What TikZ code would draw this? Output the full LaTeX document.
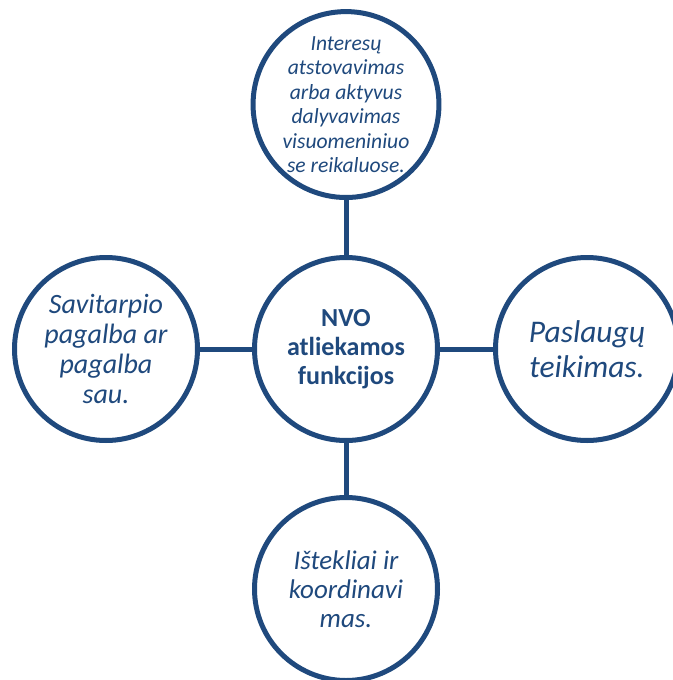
\documentclass[tikz,border=0pt]{standalone}
\usepackage{fontspec}
\setmainfont{Carlito}
\usepackage{tikz}
\usetikzlibrary{shapes,positioning}
\definecolor{navy}{RGB}{31, 73, 125}
\tikzstyle{hub} = [circle, draw=navy, line width=5pt, fill=white, text=navy, align=center, font=\bfseries\fontsize{26}{29}\selectfont, minimum size=183pt, inner sep=0pt]
\tikzstyle{func} = [circle, draw=navy, line width=5pt, fill=white, text=navy, align=center, font=\itshape, minimum size=183pt, inner sep=0pt]
\tikzstyle{tedge} = [draw=navy, line width=5pt]

\begin{document}
\begin{tikzpicture}[auto]
\useasboundingbox (0,0) rectangle (672pt,-680pt);

% functions =============================
\node[hub] (nvo) at (346pt,-349pt) {NVO\\atliekamos\\funkcijos};
\node[func, above=55pt of nvo, font=\itshape\fontsize{21.6}{24.5}\selectfont] (interest) {Interesų\\atstovavimas\\arba aktyvus\\dalyvavimas\\visuomeniniuo\\se reikaluose.};
\node[func, left=52pt of nvo, font=\itshape\fontsize{28}{30}\selectfont] (selfhelp) {Savitarpio\\pagalba ar\\pagalba\\sau.};
\node[func, right=53pt of nvo, font=\itshape\fontsize{31.5}{35}\selectfont] (service) {Paslaugų\\teikimas.};
\node[func, below=52pt of nvo, font=\itshape\fontsize{27}{29}\selectfont] (resource) {Ištekliai ir\\koordinavi\\mas.};

% edges
\path[tedge] (interest) -- (nvo);
\path[tedge] (selfhelp) -- (nvo);
\path[tedge] (service) -- (nvo);
\path[tedge] (resource) -- (nvo);

\end{tikzpicture}
\end{document}
